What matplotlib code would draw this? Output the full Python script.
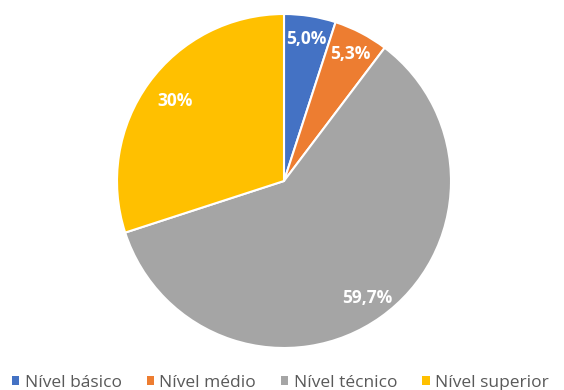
import matplotlib.pyplot as plt
from matplotlib.patches import Patch
import numpy as np

# Share of each education level
categories = ['Nível básico', 'Nível médio', 'Nível técnico', 'Nível superior']
shares = [5.0, 5.3, 59.7, 30.0]
labels = ['5,0%', '5,3%', '59,7%', '30%']
colors = ['#4472C4', '#ED7D31', '#A5A5A5', '#FFC000']
label_dist = [0.86, 0.86, 0.86, 0.81]

plt.rcParams['font.family'] = ['Open Sans', 'DejaVu Sans']

fig = plt.figure(figsize=(5.64, 3.90), dpi=100)
cx, cy, r = 284, 390 - 181, 167
ax = fig.add_axes([(cx - r) / 564, (cy - r) / 390, 2 * r / 564, 2 * r / 390])

wedges, _ = ax.pie(shares, colors=colors, startangle=90, counterclock=False,
                   radius=1, wedgeprops=dict(edgecolor='white', linewidth=1.5))
ax.set_xlim(-1, 1)
ax.set_ylim(-1, 1)
ax.set_aspect('equal')
ax.axis('off')

# Percent labels inside each slice
for w, lab, d in zip(wedges, labels, label_dist):
    ang = np.deg2rad((w.theta1 + w.theta2) / 2)
    ax.text(d * np.cos(ang), d * np.sin(ang), lab, ha='center', va='center',
            color='white', fontsize=12.5, fontweight='bold')

handles = [Patch(facecolor=c, edgecolor='none') for c in colors]
fig.legend(handles, categories, loc='center', bbox_to_anchor=(0.497, 0.018),
           ncol=4, frameon=False, fontsize=12.5, handlelength=0.42, handleheight=0.42,
           handletextpad=0.3, columnspacing=1.45, labelcolor='#595959')

fig.savefig('out.png', dpi=100)
